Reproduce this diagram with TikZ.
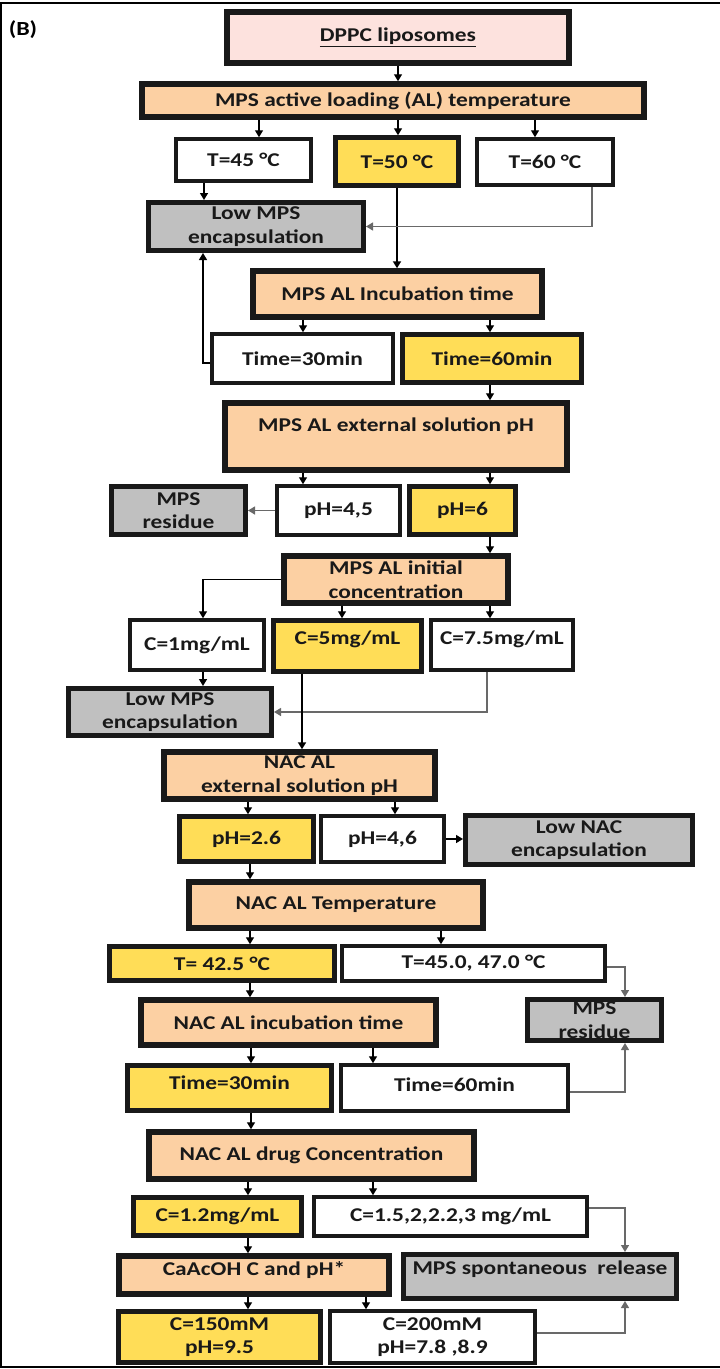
\documentclass[tikz,border=0pt]{standalone}
\usepackage{fontspec}
\setmainfont{Carlito}[FakeStretch=1.2]
\usepackage{tikz}
\usetikzlibrary{arrows.meta}

\definecolor{peach}{RGB}{252,208,163}
\definecolor{pinkbg}{RGB}{253,226,222}
\definecolor{chosen}{RGB}{255,221,87}
\definecolor{dropped}{RGB}{192,192,192}
\definecolor{sideline}{RGB}{105,105,105}

\tikzset{
  box/.style={draw=black!90, inner sep=0pt, align=center, text=black!90,
    font=\bfseries\fontsize{19.5}{23.5}\selectfont},
  stepbox/.style={box, fill=peach, line width=5.5pt},
  chosenbox/.style={box, fill=chosen, line width=4.5pt},
  otherbox/.style={box, fill=white, line width=3.5pt},
  dropbox/.style={box, fill=dropped, line width=5pt},
  lift/.style={text depth=#1},
  arr/.style={-{Triangle[length=7pt,width=8pt]}, line width=1.4pt},
  sidearr/.style={arr, draw=sideline},
  thickarr/.style={arr, line width=2.6pt}
}

\begin{document}
\begin{tikzpicture}[x=1pt, y=-1pt]
    \useasboundingbox (0,0) rectangle (720,1369);

    % Draw the frame
    \draw[line width=1.5pt] (720,3) -- (1,3) -- (1,1367) -- (720,1367);
    \node[font=\bfseries\fontsize{20}{24}\selectfont] (panel) at (23,30) {(B)};

    % Add MPS loading steps
    \node[stepbox, fill=pinkbg, line width=6pt, minimum width=342pt, minimum height=51pt] (dppc) at (398,37) {\underline{DPPC liposomes}};
    \node[stepbox, minimum width=502pt, minimum height=33pt] (temp) at (393,100.5) {MPS active loading (AL) temperature};
    \node[otherbox, minimum width=135pt, minimum height=42pt] (t45) at (243.5,160) {T=45 °C};
    \node[chosenbox, minimum width=123pt, minimum height=48pt] (t50) at (397,161.5) {T=50 °C};
    \node[otherbox, minimum width=136pt, minimum height=46pt] (t60) at (545,162) {T=60 °C};
    \node[dropbox, minimum width=215pt, minimum height=48pt] (lowmps1) at (256,226.5) {Low MPS\\encapsulation};
    \node[stepbox, minimum width=289pt, minimum height=46pt] (inc) at (397.5,294) {MPS AL Incubation time};
    \node[otherbox, minimum width=181pt, minimum height=49pt] (t30) at (302.5,358.5) {Time=30min};
    \node[chosenbox, minimum width=179pt, minimum height=48pt] (t60m) at (492,358.5) {Time=60min};
    \node[stepbox, minimum width=342pt, minimum height=67pt] (extph) at (396,436.5) {MPS AL external solution pH\\\mbox{}};
    \node[dropbox, minimum width=134pt, minimum height=48pt] (res1) at (178.5,510.5) {MPS\\residue};
    \node[otherbox, minimum width=123pt, minimum height=49pt] (ph45) at (338.5,510.5) {pH=4,5};
    \node[chosenbox, minimum width=106pt, minimum height=48pt] (ph6) at (462.5,510.5) {pH=6};
    \node[stepbox, minimum width=224pt, minimum height=47pt] (init) at (396,579.5) {MPS AL initial\\concentration};
    \node[otherbox, minimum width=134pt, minimum height=50pt] (c1) at (197,645) {C=1mg/mL};
    \node[chosenbox, lift=17pt, minimum width=148pt, minimum height=51pt] (c5) at (347.5,646) {C=5mg/mL};
    \node[otherbox, lift=15pt, minimum width=142pt, minimum height=50pt] (c75) at (502,645) {C=7.5mg/mL};
    \node[dropbox, minimum width=203pt, minimum height=47pt] (lowmps2) at (170,712) {Low MPS\\encapsulation};

    % Add NAC loading steps
    \node[stepbox, minimum width=271pt, minimum height=47pt] (nacph) at (299.5,775.5) {NAC AL\\external solution pH};
    \node[chosenbox, minimum width=134pt, minimum height=45pt] (ph26) at (246.5,839) {pH=2.6};
    \node[otherbox, minimum width=123pt, minimum height=46pt] (ph46) at (382.5,839) {pH=4,6};
    \node[dropbox, minimum width=227pt, minimum height=49pt] (lownac) at (579,840) {Low NAC\\encapsulation};
    \node[stepbox, minimum width=294pt, minimum height=46pt] (nactemp) at (336,905) {NAC AL Temperature};
    \node[chosenbox, minimum width=225pt, minimum height=34pt] (t425) at (222,963.5) {T= 42.5 °C};
    \node[otherbox, minimum width=263pt, minimum height=35pt] (t4547) at (473.5,963.5) {T=45.0, 47.0 °C};
    \node[dropbox, minimum width=134pt, minimum height=41pt] (res2) at (594.5,1020) {MPS\\residue};
    \node[stepbox, minimum width=295pt, minimum height=45pt] (nacinc) at (288.5,1022.5) {NAC AL incubation time};
    \node[chosenbox, lift=10pt, minimum width=204pt, minimum height=45pt] (n30) at (229.5,1088) {Time=30min};
    \node[otherbox, lift=6pt, minimum width=227pt, minimum height=46pt] (n60) at (454.5,1088) {Time=60min};
    \node[stepbox, minimum width=325pt, minimum height=47pt] (drug) at (311.5,1155.5) {NAC AL drug Concentration};
    \node[chosenbox, minimum width=168pt, minimum height=38pt] (c12) at (217.5,1216.5) {C=1.2mg/mL};
    \node[otherbox, minimum width=273pt, minimum height=39pt] (c15) at (450.5,1216.5) {C=1.5,2,2.2,3 mg/mL};
    \node[stepbox, lift=12pt, minimum width=270pt, minimum height=38pt] (caac) at (254,1275) {CaAcOH C and pH*};
    \node[dropbox, lift=17pt, minimum width=273pt, minimum height=44pt] (spont) at (540,1276.5) {MPS spontaneous\ \ release};
    \node[chosenbox, minimum width=202pt, minimum height=51pt] (c150) at (219.5,1337) {C=150mM\\pH=9.5};
    \node[otherbox, minimum width=205pt, minimum height=52pt] (c200) at (432.5,1337) {C=200mM\\pH=7.8 ,8.9};

    % Connect MPS steps
    \draw[arr] (dppc.south) -- (dppc.south |- temp.north);
    \draw[arr] (temp.south -| 259,0) -- (t45.north -| 259,0);
    \draw[arr] (temp.south -| 398,0) -- (t50.north -| 398,0);
    \draw[arr] (temp.south -| 535,0) -- (t60.north -| 535,0);
    \draw[arr] (t45.south -| 204,0) -- (lowmps1.north -| 204,0);
    \draw[thickarr] (t50.south) -- (t50.south |- inc.north);
    \draw[sidearr] (t60.south -| 592,0) |- (lowmps1.east);
    \draw[arr] (inc.south -| 303,0) -- (t30.north -| 303,0);
    \draw[arr] (inc.south -| 490,0) -- (t60m.north -| 490,0);
    \draw[arr] (t30.west |- 0,363) -| (lowmps1.south -| 203,0);
    \draw[arr] (t60m.south -| 490,0) -- (extph.north -| 490,0);
    \draw[arr] (extph.south -| 303,0) -- (ph45.north -| 303,0);
    \draw[arr] (extph.south -| 490,0) -- (ph6.north -| 490,0);
    \draw[sidearr] (ph45.west) -- (ph45.west -| res1.east);
    \draw[arr] (ph6.south -| 490,0) -- (init.north -| 490,0);
    \draw[arr] (init.west) -| (c1.north -| 203,0);
    \draw[arr] (init.south -| 342,0) -- (c5.north -| 342,0);
    \draw[arr] (init.south -| 490,0) -- (c75.north -| 490,0);
    \draw[arr] (c1.south -| 203,0) -- (lowmps2.north -| 203,0);
    \draw[sidearr] (c75.south -| 487,0) |- (lowmps2.east);
    \draw[thickarr] (c5.south -| 302,0) -- (nacph.north -| 302,0);

    % Connect NAC steps
    \draw[arr] (nacph.south -| 248,0) -- (ph26.north -| 248,0);
    \draw[arr] (nacph.south -| 395,0) -- (ph46.north -| 395,0);
    \draw[arr] (ph46.east) -- (ph46.east -| lownac.west);
    \draw[arr] (ph26.south -| 250,0) -- (nactemp.north -| 250,0);
    \draw[arr] (nactemp.south -| 250,0) -- (t425.north -| 250,0);
    \draw[arr] (nactemp.south -| 441,0) -- (t4547.north -| 441,0);
    \draw[sidearr] (t4547.east |- 0,967) -| (res2.north -| 625,0);
    \draw[arr] (t425.south -| 250,0) -- (nacinc.north -| 250,0);
    \draw[arr] (nacinc.south -| 251,0) -- (n30.north -| 251,0);
    \draw[arr] (nacinc.south -| 373,0) -- (n60.north -| 373,0);
    \draw[sidearr] (n60.east |- 0,1092) -| (res2.south -| 625,0);
    \draw[arr] (n30.south -| 251,0) -- (drug.north -| 251,0);
    \draw[arr] (drug.south -| 248,0) -- (c12.north -| 248,0);
    \draw[arr] (drug.south -| 373,0) -- (c15.north -| 373,0);
    \draw[sidearr] (c15.east |- 0,1208) -| (spont.north -| 625,0);
    \draw[arr] (c12.south -| 248,0) -- (caac.north -| 248,0);
    \draw[arr] (caac.south -| 248,0) -- (c150.north -| 248,0);
    \draw[arr] (caac.south -| 366,0) -- (c200.north -| 366,0);
    \draw[sidearr] (c200.east |- 0,1333) -| (spont.south -| 625,0);
\end{tikzpicture}
\end{document}
